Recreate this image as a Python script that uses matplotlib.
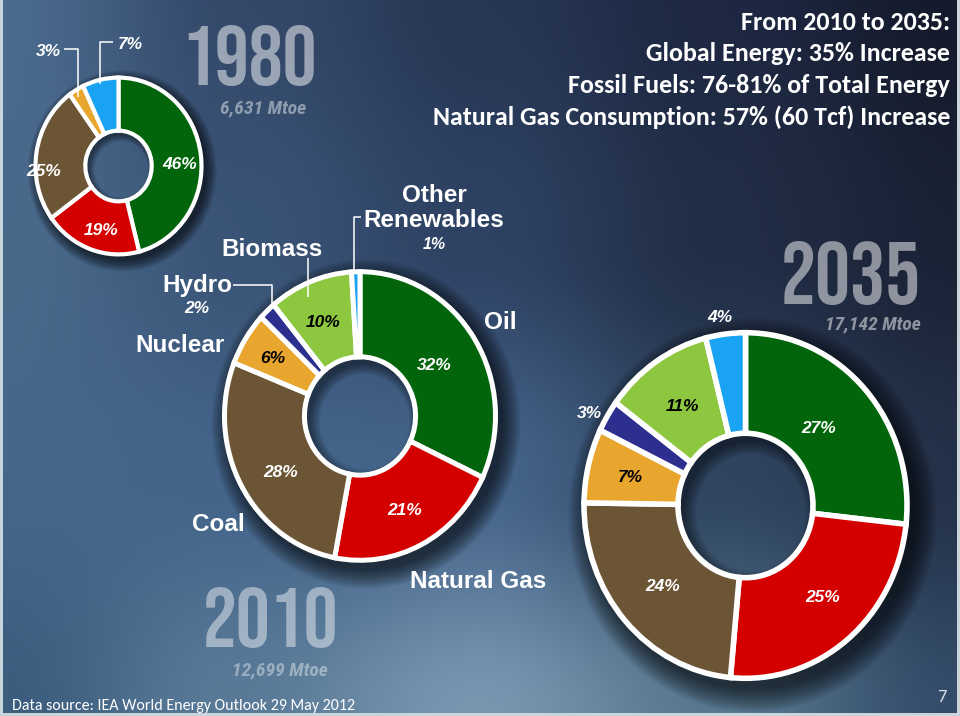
import numpy as np
import matplotlib
matplotlib.use('Agg')
import matplotlib.pyplot as plt
from matplotlib.patches import Wedge, Circle

W, H = 960, 716

# ---------------- data ----------------
categories = ['Oil', 'Natural Gas', 'Coal', 'Nuclear', 'Hydro', 'Biomass', 'Other Renewables']
shares_1980 = [46, 19, 25, 3, 7]          # Oil, Gas, Coal, Nuclear, Hydro+Renewables
shares_2010 = [32, 21, 28, 6, 2, 10, 1]
shares_2035 = [27, 25, 24, 7, 3, 11, 4]
years = ['1980', '2010', '2035']
totals = ['6,631 Mtoe', '12,699 Mtoe', '17,142 Mtoe']
headline = ['From 2010 to 2035:',
            'Global Energy: 35% Increase',
            'Fossil Fuels: 76-81% of Total Energy',
            'Natural Gas Consumption: 57% (60 Tcf) Increase']
source = 'Data source: IEA World Energy Outlook 29 May 2012'
page = '7'

# ---------------- style ----------------
colors7 = ['#02650b', '#d40000', '#6b5535', '#e9a62f', '#2d2f8f', '#8dc63f', '#1aa3f3']
colors5 = ['#02650b', '#d40000', '#6b5535', '#e9a62f', '#1aa3f3']

ARIAL = ['Liberation Sans', 'DejaVu Sans']
YEARF = ['Bebas Neue', 'Liberation Sans', 'DejaVu Sans']
NARROW = ['Roboto Condensed', 'Liberation Sans', 'DejaVu Sans']
CAL = ['Carlito', 'Lato', 'DejaVu Sans']

fig = plt.figure(figsize=(W / 100, H / 100), dpi=100, facecolor='#c9d4db')

# ---------------- background gradient ----------------
grid_hex = [
    ['#4a6a8e', '#34496a', '#273754', '#1e2842', '#151b2c'],
    ['#4a6a8c', '#3a5476', '#2e4263', '#222e46', '#1a2236'],
    ['#46678a', '#44648a', '#45648a', '#2f4560', '#243249'],
    ['#3c5d7e', '#5a7b98', '#7896b0', '#587890', '#344d6a'],
]
grid = np.array([[matplotlib.colors.to_rgb(c) for c in row] for row in grid_hex])
nr, nc = grid.shape[:2]
yy, xx = np.mgrid[0:H, 0:W]
u = xx / (W - 1) * (nc - 1)
v = yy / (H - 1) * (nr - 1)
i0 = np.clip(np.floor(v).astype(int), 0, nr - 2)
j0 = np.clip(np.floor(u).astype(int), 0, nc - 2)
fv = (v - i0)[..., None]
fu = (u - j0)[..., None]
fv = fv * fv * (3 - 2 * fv)
fu = fu * fu * (3 - 2 * fu)
img = (grid[i0, j0] * (1 - fu) * (1 - fv) + grid[i0, j0 + 1] * fu * (1 - fv)
       + grid[i0 + 1, j0] * (1 - fu) * fv + grid[i0 + 1, j0 + 1] * fu * fv)

bg = fig.add_axes([0, 0, 1, 1])
bg.imshow(img, extent=(3, 957, 713, 0), aspect='auto', interpolation='bilinear')
bg.set_xlim(0, W)
bg.set_ylim(H, 0)
bg.axis('off')


def px_axes(x0, y0, w, h):
    return fig.add_axes([x0 / W, 1 - (y0 + h) / H, w / W, h / H])


def donut(values, colors, cx, cy, rx, ry, r_in, lw, labels):
    L = 1.35
    ax = px_axes(cx - rx * L, cy - ry * L, 2 * rx * L, 2 * ry * L)
    ax.patch.set_visible(False)
    # outer soft drop shadow (towards bottom right)
    for k in range(14):
        r = 1.0 + 0.01 * (k + 1)
        ax.add_patch(Wedge((0.045, -0.055), r, 0, 360, width=r - 0.85,
                           fc='black', alpha=0.055, lw=0, zorder=0))
    wedges, _ = ax.pie(values, colors=colors, startangle=90, counterclock=False,
                       radius=1.0,
                       wedgeprops=dict(width=1 - r_in, edgecolor='white', linewidth=lw))
    for w in wedges:
        w.set_zorder(2)
    # inner shadow inside the hole
    hole = Circle((0, 0), r_in, transform=ax.transData)
    for k in range(10):
        ring = Wedge((0.035, -0.04), r_in + 0.1, 0, 360, width=0.1 + 0.008 * (k + 1),
                     fc='black', alpha=0.05, lw=0, zorder=1)
        ax.add_patch(ring)
        ring.set_clip_path(hole)
    ax.set_aspect('auto')
    ax.set_xlim(-L, L)
    ax.set_ylim(-L, L)
    ax.axis('off')
    total = float(sum(values))
    cum = np.concatenate([[0], np.cumsum(values)])
    mids = 90 - 360 * (cum[:-1] + np.array(values) / 2) / total
    for idx, d, col, dth in labels:
        th = np.deg2rad(mids[idx] + dth)
        ax.text(d * np.cos(th), d * np.sin(th), f'{values[idx]}%', ha='center',
                va='center_baseline', color=col, fontsize=12.5, fontweight='bold',
                fontstyle='italic', family=ARIAL, zorder=5)
    return ax


donut(shares_1980, colors5, 118.5, 166, 83, 88.4, 0.40, 3.0,
      labels=[(0, 0.74, 'white', -4.6), (1, 0.74, 'white', 3), (2, 0.90, 'white', 12)])
donut(shares_2010, colors7, 360, 416, 135.5, 144.3, 0.41, 3.6,
      labels=[(0, 0.66, 'white', 1), (1, 0.72, 'white', 0), (2, 0.70, 'white', 4),
              (3, 0.76, 'black', 0), (5, 0.71, 'black', 1)])
donut(shares_2035, colors7, 745.5, 505.5, 161.5, 172.8, 0.418, 4.0,
      labels=[(0, 0.64, 'white', 3), (1, 0.71, 'white', 3), (2, 0.69, 'white', 0),
              (3, 0.735, 'black', 0), (5, 0.70, 'black', 0),
              (4, 1.11, 'white', 2), (6, 1.11, 'white', 1)])

# ---------------- overlay texts ----------------
ov = fig.add_axes([0, 0, 1, 1])
ov.patch.set_visible(False)
ov.set_xlim(0, W)
ov.set_ylim(H, 0)
ov.axis('off')


def T(x, y, s, size, color='white', weight='bold', style='normal', ha='center',
      va='baseline', family=ARIAL, alpha=1.0):
    ov.text(x, y, s, fontsize=size, color=color, fontweight=weight, fontstyle=style,
            ha=ha, va=va, family=family, alpha=alpha)


# year labels
T(249, 85, years[0], 61, alpha=0.5, family=YEARF, weight='normal')
T(271, 647, years[1], 61, alpha=0.45, family=YEARF, weight='normal')
T(851, 304, years[2], 63, alpha=0.5, family=YEARF, weight='normal')
T(263, 113, totals[0], 14, alpha=0.45, style='italic', family=NARROW)
T(280, 675, totals[1], 14, alpha=0.4, style='italic', family=NARROW)
T(873, 329, totals[2], 14, alpha=0.5, style='italic', family=NARROW)

# headline
for i, line in enumerate(headline):
    T(950, [30, 61, 93, 125][i], line, 18.7, ha='right', family=CAL)

# category labels (2010 donut)
T(434.5, 201.7, 'Other', 17.5)
T(434, 226.7, 'Renewables', 17.5)
T(434, 248.7, f'{shares_2010[6]}%', 11.5, style='italic')
T(272, 255.7, categories[5], 17.5)
T(197, 291.7, categories[4], 17.5)
T(197, 313, f'{shares_2010[4]}%', 12.5, style='italic')
T(180, 351.7, categories[3], 17.5)
T(218, 530.7, categories[2], 17.5)
T(500, 328.7, categories[0], 17.5)
T(478.5, 587.7, categories[1], 17.5)

# 1980 small labels
T(48.5, 56, f'{shares_1980[3]}%', 12.5, style='italic')
T(130.5, 49, f'{shares_1980[4]}%', 12.5, style='italic')

# leader lines
leaders = [
    [(64, 49), (78, 49), (78, 97)],
    [(113, 42), (100, 42), (100, 84)],
    [(308, 258), (308, 297)],
    [(233, 285), (272, 285), (272, 307)],
    [(361, 217), (354, 217), (354, 272)],
]
for pts in leaders:
    xs, ys = zip(*pts)
    ov.plot(xs, ys, color='white', lw=1.1, solid_capstyle='butt', zorder=6)

# footer
T(12, 710, source, 11.5, weight='normal', ha='left', family=CAL)
T(942, 702, page, 13.5, color='#d5dde4', weight='normal', family=CAL)

fig.savefig('out.png', dpi=100, facecolor=fig.get_facecolor())
